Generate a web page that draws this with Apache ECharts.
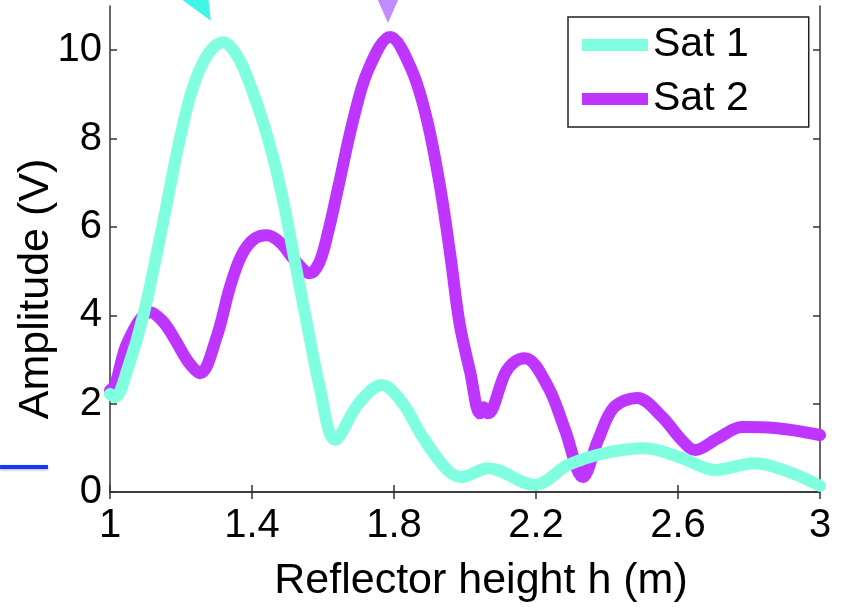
<!DOCTYPE html>
<html>
<head>
<meta charset="utf-8">
<script src="https://cdn.jsdelivr.net/npm/echarts@6/dist/echarts.min.js"></script>
<style>
  html, body { margin: 0; padding: 0; background: #fff; }
  #chart { width: 846px; height: 612px; }
</style>
</head>
<body>
<div id="chart"></div>
<script>
// reflector height (m) / amplitude (V)
var sat1X = [1.00, 1.014, 1.05, 1.094, 1.147, 1.197, 1.234, 1.275, 1.318, 1.36, 1.40, 1.445, 1.485, 1.52, 1.555, 1.59, 1.634, 1.70, 1.766, 1.825, 1.88, 1.95, 1.99, 2.065, 2.197, 2.29, 2.394, 2.507, 2.61, 2.704, 2.817, 2.91, 3.00];
var sat1Y = [2.22, 2.15, 2.8, 4.0, 6.0, 8.0, 9.17, 9.9, 10.18, 9.85, 9.1, 8.0, 6.7, 5.25, 3.8, 2.4, 1.18, 2.0, 2.42, 2.0, 1.25, 0.5, 0.34, 0.54, 0.16, 0.61, 0.88, 0.99, 0.77, 0.5, 0.65, 0.46, 0.14];
var sat2X = [1.00, 1.014, 1.05, 1.113, 1.15, 1.183, 1.22, 1.254, 1.30, 1.338, 1.37, 1.405, 1.442, 1.479, 1.52, 1.563, 1.59, 1.615, 1.643, 1.685, 1.727, 1.789, 1.85, 1.893, 1.93, 1.958, 1.985, 2.015, 2.042, 2.053, 2.065, 2.113, 2.14, 2.169, 2.234, 2.282, 2.332, 2.375, 2.42, 2.485, 2.555, 2.61, 2.648, 2.713, 2.78, 2.873, 3.00];
var sat2Y = [2.3, 2.42, 3.4, 4.07, 3.85, 3.45, 2.95, 2.69, 3.5, 4.64, 5.35, 5.72, 5.81, 5.65, 5.25, 4.95, 5.2, 5.9, 6.9, 8.42, 9.55, 10.3, 9.55, 8.42, 6.9, 5.4, 3.8, 2.7, 1.78, 1.92, 1.78, 2.69, 2.95, 3.03, 2.38, 1.4, 0.34, 1.18, 1.92, 2.13, 1.7, 1.18, 0.95, 1.22, 1.47, 1.45, 1.29];
var xTicks = [1, 1.4, 1.8, 2.2, 2.6, 3];
var yTicks = [0, 2, 4, 6, 8, 10];
// peak markers above the frame
var peak1 = [1.26, 11.0];
var peak2 = [1.783, 11.0];

function zip(xs, ys) {
  return xs.map(function (x, i) { return [x, ys[i]]; });
}

var chart = echarts.init(document.getElementById('chart'));
var font = 'Liberation Sans, Arial, Helvetica, sans-serif';
var axisCol = '#333';

chart.setOption({
  animation: false,
  backgroundColor: '#fff',
  grid: { left: 110, top: 6, right: 26, bottom: 120, containLabel: false, outerBoundsMode: 'none' },
  legend: {
    orient: 'vertical',
    left: 568,
    top: 17,
    padding: [5, 60, 5, 14],
    itemGap: 8,
    itemWidth: 66,
    itemHeight: 12,
    icon: 'rect',
    borderColor: '#222',
    borderWidth: 1.5,
    backgroundColor: '#fff',
    textStyle: { fontFamily: font, fontSize: 41, color: '#000', lineHeight: 46 },
    data: ['Sat 1', 'Sat 2']
  },
  xAxis: [
    {
      type: 'value',
      min: 1,
      max: 3,
      name: 'Reflector height h (m)',
      nameLocation: 'middle',
      nameGap: 68,
      nameMoveOverlap: false,
      nameTextStyle: { fontFamily: font, fontSize: 43, color: '#000', padding: [0, 0, 0, 32] },
      axisLine: { show: true, lineStyle: { color: axisCol, width: 1.5 } },
      axisTick: { show: true, inside: true, length: 7, customValues: xTicks, lineStyle: { color: axisCol, width: 1.5 } },
      axisLabel: { customValues: xTicks, fontFamily: font, fontSize: 40, color: '#000', margin: 14 },
      splitLine: { show: false }
    },
    {
      type: 'value',
      position: 'top',
      min: 1,
      max: 3,
      axisLine: { show: true, lineStyle: { color: axisCol, width: 1.5 } },
      axisTick: { show: true, inside: true, length: 7, customValues: xTicks, lineStyle: { color: axisCol, width: 1.5 } },
      axisLabel: { show: false },
      splitLine: { show: false }
    }
  ],
  yAxis: [
    {
      type: 'value',
      min: 0,
      max: 11,
      name: 'Amplitude (V)',
      nameLocation: 'middle',
      nameGap: 52,
      nameMoveOverlap: false,
      nameTextStyle: { fontFamily: font, fontSize: 43, color: '#000', padding: [0, 80, 0, 0] },
      axisLine: { show: true, lineStyle: { color: axisCol, width: 1.5 } },
      axisTick: { show: true, inside: true, length: 7, customValues: yTicks, lineStyle: { color: axisCol, width: 1.5 } },
      axisLabel: { customValues: yTicks, fontFamily: font, fontSize: 40, color: '#000', margin: 8 },
      splitLine: { show: false }
    },
    {
      type: 'value',
      position: 'right',
      min: 0,
      max: 11,
      axisLine: { show: true, lineStyle: { color: axisCol, width: 1.5 } },
      axisTick: { show: true, inside: true, length: 7, customValues: yTicks, lineStyle: { color: axisCol, width: 1.5 } },
      axisLabel: { show: false },
      splitLine: { show: false }
    }
  ],
  graphic: [
    {
      type: 'rect',
      left: 0,
      top: 465,
      shape: { width: 48, height: 4 },
      style: { fill: '#1238ff', shadowBlur: 3, shadowColor: 'rgba(0,0,0,0.3)', shadowOffsetY: 1 }
    }
  ],
  series: [
    {
      name: 'Sat 1',
      type: 'line',
      xAxisIndex: 0,
      yAxisIndex: 0,
      data: zip(sat1X, sat1Y),
      smooth: 0.35,
      showSymbol: false,
      symbol: 'none',
      z: 3,
      itemStyle: { color: '#80FFE0' },
      lineStyle: { color: '#80FFE0', width: 12, cap: 'round', join: 'round' },
      markPoint: {
        silent: true,
        symbol: 'triangle',
        symbolSize: [30, 34],
        symbolRotate: 210,
        itemStyle: { color: '#40F5E6' },
        label: { show: false },
        data: [{ coord: peak1 }]
      }
    },
    {
      name: 'Sat 2',
      type: 'line',
      xAxisIndex: 0,
      yAxisIndex: 0,
      data: zip(sat2X, sat2Y),
      smooth: 0.35,
      showSymbol: false,
      symbol: 'none',
      z: 2,
      itemStyle: { color: '#BD35FF' },
      lineStyle: { color: '#BD35FF', width: 12, cap: 'round', join: 'round' },
      markPoint: {
        silent: true,
        symbol: 'triangle',
        symbolSize: [30, 34],
        symbolRotate: 180,
        itemStyle: { color: '#C08CFF' },
        label: { show: false },
        data: [{ coord: peak2 }]
      }
    }
  ]
});
</script>
</body>
</html>
